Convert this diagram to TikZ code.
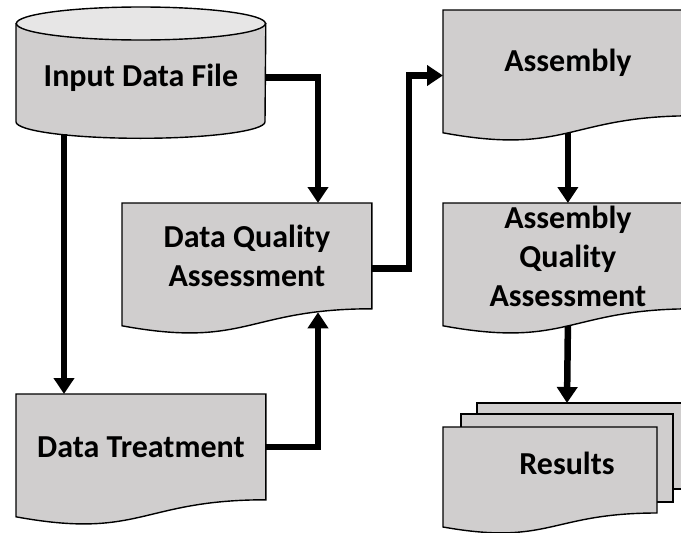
\documentclass[tikz,border=0pt]{standalone}
\usepackage{fontspec}
\setmainfont{Carlito}
\usetikzlibrary{arrows.meta,calc,backgrounds}
\definecolor{docgray}{HTML}{D0CECE}
\definecolor{lidgray}{HTML}{E7E6E6}
\newcommand\docshape[1]{%
  \filldraw[outline] (#1.north west) -- (#1.north east) -- (#1.south east)
    .. controls (#1.south) and ($(#1.south)+(0,-40)$) .. ($(#1.south west)+(0,-17)$) -- cycle;}

\begin{document}
\begin{tikzpicture}[x=0.5pt,y=0.5pt,
  box/.style={anchor=north west,inner sep=0pt,align=center,minimum width=124.5pt,minimum height=52.5pt,
    font=\fontsize{16}{19.5}\selectfont\bfseries},
  outline/.style={draw=black,line width=0.7pt,fill=docgray},
  flow/.style={-{Triangle[length=8pt,width=10pt]},line width=3.25pt}]
\useasboundingbox (0,0) rectangle (681,532);
\node[box,minimum height=44pt] (input) at (16,499) {Input Data File};
\node[box] (dqa) at (122,329) {Data Quality\\Assessment};
\node[box] (treat) at (16,138) {Data Treatment};
\node[box] (asm) at (443,522) {Assembly};
\node[box] (aqa) at (443,329) {Assembly\\Quality\\Assessment};
\node[font=\fontsize{16}{19.5}\selectfont\bfseries,inner sep=0pt] (res) at (567,69) {Results};
\begin{scope}[on background layer]
\filldraw[outline] ($(input.north west)+(0,9.5)$) -- (input.south west)
  arc[start angle=180,end angle=360,x radius=62.25pt,y radius=8.25pt] -- ($(input.north east)+(0,9.5)$) -- cycle;
\filldraw[outline,fill=lidgray] ($(input.north)+(0,9.5)$) ellipse[x radius=62.25pt,y radius=8.25pt];
\docshape{dqa}
\docshape{treat}
\docshape{asm}
\docshape{aqa}
\filldraw[outline] ($(res)+(-90,60)$) rectangle ($(res)+(124,-26)$);
\filldraw[outline] ($(res)+(-106,49)$) rectangle ($(res)+(106,-39)$);
\filldraw[outline] ($(res)+(-124,36)$) -- ($(res)+(90,36)$) -- ($(res)+(90,-50)$)
  .. controls ($(res)+(-17,-50)$) and ($(res)+(-17,-83)$) .. ($(res)+(-124,-64)$) -- cycle;
\end{scope}
\draw[flow] (input.east) -| ($(dqa.north west)+(196,0)$);
\draw[flow] ($(input.south west)+(48,-12.6)$) -- ($(treat.north west)+(48,0)$);
\draw[flow] (treat.east) -| ($(dqa.south west)+(196,-3.5)$);
\draw[flow] ($(dqa.north east)+(0,-65.5)$) -- ++(37,0) |- ($(asm.north west)+(0,-65.5)$);
\draw[flow] ($(asm.south)+(0,-17)$) -- (aqa.north);
\draw[flow] ($(aqa.south)+(0,-17)$) -- ($(res)+(0,60)$);
\end{tikzpicture}
\end{document}
